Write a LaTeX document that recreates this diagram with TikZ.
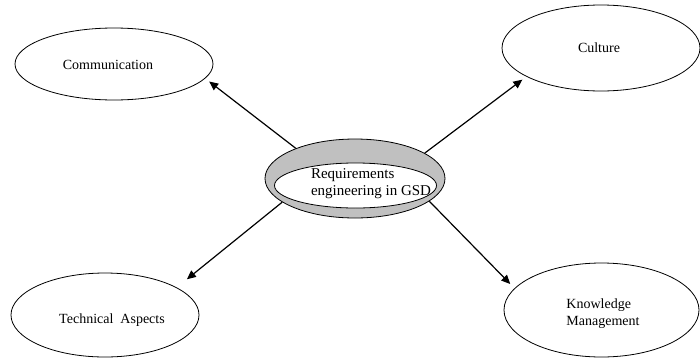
\documentclass[tikz,border=0pt]{standalone}
\usepackage{fontspec}
\setmainfont{Liberation Serif}
\usetikzlibrary{arrows.meta,shapes.geometric}
\definecolor{ringgray}{HTML}{C0C0C0}
\begin{document}
\begin{tikzpicture}[x=1pt,y=-1pt,
  topic/.style={draw=black,line width=0.8pt,ellipse,inner sep=0pt,fill=white},
  label/.style={font=\fontsize{14}{17}\selectfont,inner sep=0pt},
  link/.style={line width=1.2pt,-{Triangle[length=9pt,width=8pt]},shorten >=5pt}]
\useasboundingbox (0,0) rectangle (700,359);

% central ring
\node[topic,fill=ringgray,minimum width=180pt,minimum height=79pt] (hub) at (355,178.5) {};
\node[topic,minimum width=162pt,minimum height=45pt] (hubin) at (355.5,185.5) {};
\node[label,align=left,font=\fontsize{15}{17}\selectfont] (hubtext) at (371,184) {Requirements\\engineering in GSD};

% surrounding topics
\node[topic,minimum width=198pt,minimum height=72pt] (comm) at (114,64) {};
\node[label] (commtext) at (108,65) {Communication};

\node[topic,minimum width=198pt,minimum height=86pt] (cult) at (601,48) {};
\node[label] (culttext) at (599,48) {Culture};

\node[topic,minimum width=188pt,minimum height=84pt] (tech) at (105,315) {};
\node[label] (techtext) at (112,320) {Technical\ \ Aspects};

\node[topic,minimum width=195pt,minimum height=94pt] (km) at (601.5,310) {};
\node[label,align=left] (kmtext) at (603,314) {Knowledge\\Management};

% connectors
\draw[link] (hub.153) -- (comm.-9);
\draw[link] (hub.20) -- (cult.-159);
\draw[link,shorten >=13pt] (hub.198) -- (tech.21);
\draw[link,shorten >=6pt] (hub.-17) -- (km.166);
\end{tikzpicture}
\end{document}
